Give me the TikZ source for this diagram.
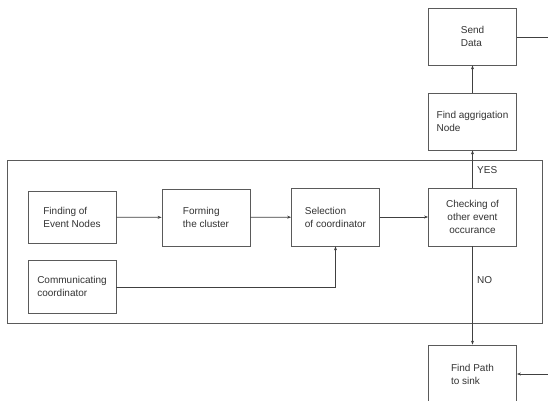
\documentclass[tikz,border=0pt]{standalone}
\usepackage{fontspec}
\setmainfont{Liberation Sans}
\usetikzlibrary{arrows.meta}
\definecolor{linec}{HTML}{404040}
\definecolor{boxc}{HTML}{5A5A5A}
\definecolor{txtc}{HTML}{333333}
\begin{document}
\begin{tikzpicture}[x=1pt,y=-1pt,
  box/.style={draw=boxc,line width=0.8pt,rectangle,inner sep=0pt,
    minimum width=88pt,font=\fontsize{10}{13}\selectfont,text=txtc,align=left},
  conn/.style={draw=linec,line width=0.7pt,-{Stealth[length=4pt,width=3pt]}},
  plain/.style={draw=linec,line width=0.7pt},
  lbl/.style={font=\fontsize{10}{12}\selectfont,text=txtc,inner sep=0pt,anchor=west}]
\useasboundingbox (0,0) rectangle (548,400);
\clip (0,0) rectangle (548,400);
\fill[white] (0,0) rectangle (548,400);
\draw[draw=boxc,line width=0.8pt] (7,160) rectangle (542,323);
\node[box,minimum height=57pt] (send) at (472.5,36.5) {Send\\Data};
\node[box,minimum height=57pt] (agg) at (472.5,121.5) {Find aggrigation\\Node};
\node[box,minimum height=52pt] (find) at (72,217) {Finding of\\Event Nodes};
\node[box,minimum height=57pt] (form) at (206,217.5) {Forming\\the cluster};
\node[box,minimum height=58pt] (sel) at (335.5,217) {Selection\\of coordinator};
\node[box,minimum height=58pt,align=center] (chk) at (472.5,217) {Checking of\\other event\\occurance};
\node[box,minimum height=53pt] (comm) at (72,286.5) {Communicating\\coordinator};
\node[box,minimum height=58pt] (path) at (472.5,374) {Find Path\\to sink};
\coordinate (sendout) at (548,37);
\coordinate (pathin) at (548,374);
\coordinate (corner) at (335.5,287);
\draw[conn] (find) -- (form);
\draw[conn] (form) -- (sel);
\draw[conn] (sel) -- (chk);
\draw[plain] (comm.east |- corner) -- (corner);
\draw[conn] (corner) -- (sel.south);
\draw[conn] (chk.north) -- (agg.south);
\draw[conn] (agg.north) -- (send.south);
\draw[conn] (chk.south) -- (path.north);
\draw[plain] (send.east |- sendout) -- (sendout);
\draw[conn] (pathin) -- (path.east |- pathin);
\node[lbl] (yes) at (477,170) {YES};
\node[lbl] (no) at (477,280) {NO};
\end{tikzpicture}
\end{document}
